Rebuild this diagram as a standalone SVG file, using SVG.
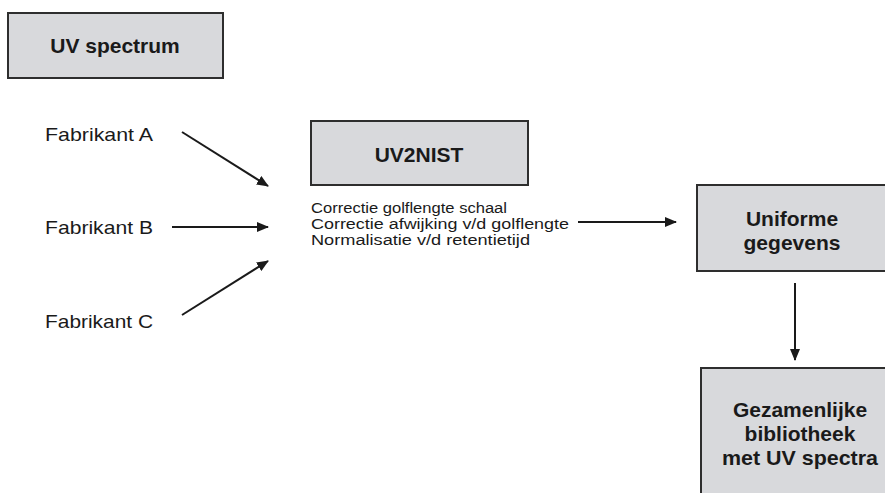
<svg xmlns="http://www.w3.org/2000/svg" width="885" height="493" viewBox="0 0 885 493">
<defs>
<style>
.box{fill:#d8d9dc;stroke:#2e2e2e;stroke-width:2}
.t{font-family:"Liberation Sans",Arial,sans-serif;fill:#1a1a1a}
.b{font-weight:bold;font-size:21px;text-anchor:middle}
.f{font-size:19px}
.s{font-size:15.5px}
.c{stroke:#1a1a1a;stroke-width:2;fill:none;marker-end:url(#ah)}
</style>
<marker id="ah" markerWidth="12" markerHeight="10" refX="11" refY="5" orient="auto" markerUnits="userSpaceOnUse">
<path d="M0,0 L12,5 L0,10 z" fill="#1a1a1a"/>
</marker>
</defs>
<rect width="885" height="493" fill="#fff"/>
<g id="uvspectrum">
<rect class="box" x="8" y="13" width="215" height="65"/>
<text class="t b" x="115" y="53">UV spectrum</text>
</g>
<g id="fabA"><text class="t f" x="45" y="141" textLength="108" lengthAdjust="spacingAndGlyphs">Fabrikant A</text></g>
<g id="fabB"><text class="t f" x="45" y="234" textLength="108" lengthAdjust="spacingAndGlyphs">Fabrikant B</text></g>
<g id="fabC"><text class="t f" x="45" y="328" textLength="108" lengthAdjust="spacingAndGlyphs">Fabrikant C</text></g>
<g id="uv2nist">
<rect class="box" x="311" y="121" width="217" height="64"/>
<text class="t b" x="419" y="162">UV2NIST</text>
<text class="t s" x="311" y="213" textLength="196" lengthAdjust="spacingAndGlyphs">Correctie golflengte schaal</text>
<text class="t s" x="311" y="229" textLength="258" lengthAdjust="spacingAndGlyphs">Correctie afwijking v/d golflengte</text>
<text class="t s" x="311" y="245" textLength="219" lengthAdjust="spacingAndGlyphs">Normalisatie v/d retentietijd</text>
</g>
<g id="uniforme">
<rect class="box" x="697" y="185" width="200" height="86"/>
<text class="t b" x="792" y="226">Uniforme</text>
<text class="t b" x="792" y="250">gegevens</text>
</g>
<g id="bibliotheek">
<rect class="box" x="701" y="368" width="200" height="140"/>
<text class="t b" x="800" y="417">Gezamenlijke</text>
<text class="t b" x="800" y="441">bibliotheek</text>
<text class="t b" x="800" y="465" textLength="156" lengthAdjust="spacingAndGlyphs">met UV spectra</text>
</g>
<g id="connectors">
<line class="c" x1="182" y1="132" x2="268" y2="186"/>
<line class="c" x1="172" y1="227" x2="268" y2="227"/>
<line class="c" x1="182" y1="315" x2="268" y2="261"/>
<line class="c" x1="578" y1="222" x2="676" y2="222"/>
<line class="c" x1="795" y1="283" x2="795" y2="360"/>
</g>
</svg>
